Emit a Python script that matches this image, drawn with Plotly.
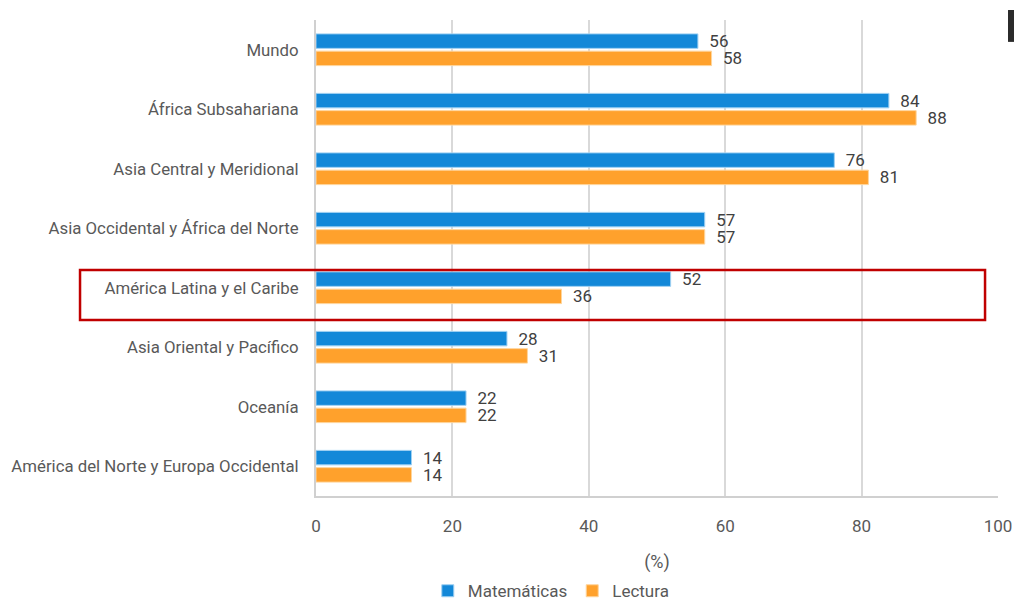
import plotly.graph_objects as go

categories = ["Mundo", "África Subsahariana", "Asia Central y Meridional",
              "Asia Occidental y África del Norte", "América Latina y el Caribe",
              "Asia Oriental y Pacífico", "Oceanía", "América del Norte y Europa Occidental"]
matematicas = [56, 84, 76, 57, 52, 28, 22, 14]
lectura = [58, 88, 81, 57, 36, 31, 22, 14]
x_ticks = [0, 20, 40, 60, 80, 100]

FONT = "Roboto, Liberation Sans, sans-serif"
GREY = "#595959"

fig = go.Figure()
fig.add_trace(go.Bar(y=categories, x=matematicas, orientation="h", name="Matemáticas",
                     marker=dict(color="#1388D8", line=dict(color="#9fd0f2", width=1)),
                     text=[str(v) for v in matematicas], texttemplate="  %{text}",
                     textposition="outside", constraintext="none",
                     textfont=dict(size=17, color="#404040", family=FONT), cliponaxis=False))
fig.add_trace(go.Bar(y=categories, x=lectura, orientation="h", name="Lectura",
                     marker=dict(color="#FFA12C", line=dict(color="#ffd59c", width=1)),
                     text=[str(v) for v in lectura], texttemplate="  %{text}",
                     textposition="outside", constraintext="none",
                     textfont=dict(size=17, color="#404040", family=FONT), cliponaxis=False))

fig.update_layout(
    width=1014, height=601,
    margin=dict(l=316, r=16, t=20, b=105, autoexpand=False),
    paper_bgcolor="white", plot_bgcolor="white",
    barmode="group", bargap=0.42, bargroupgap=0.16,
    font=dict(family=FONT, color=GREY, size=17),
    showlegend=True,
    legend=dict(orientation="h", x=0.345, xanchor="center", y=-0.2, yanchor="middle",
                font=dict(size=17, color=GREY, family=FONT), traceorder="normal"),
)
fig.update_xaxes(range=[0, 100], tickvals=x_ticks, showgrid=True, gridcolor="#d9d9d9",
                 gridwidth=1.5, showline=True, linecolor="#d0d0d0", linewidth=2,
                 zeroline=False, ticks="", ticklabelstandoff=14, automargin=False,
                 tickfont=dict(size=17, color=GREY, family=FONT),
                 title=dict(text="(%)", font=dict(size=18, color=GREY, family=FONT), standoff=20),
                 mirror=False)
fig.update_yaxes(autorange="reversed", showgrid=False, showline=True, linecolor="#d0d0d0",
                 linewidth=2, ticks="", ticklabelstandoff=12, automargin=False,
                 tickfont=dict(size=16.8, color=GREY, family=FONT))

# Highlight box around "América Latina y el Caribe"
fig.add_shape(type="rect", xref="paper", yref="paper", x0=-0.346, x1=0.981, y0=0.370, y1=0.475,
              line=dict(color="#C00000", width=2.5), fillcolor="rgba(0,0,0,0)")
# Dark element at top-right corner
fig.add_shape(type="rect", xref="paper", yref="paper", x0=1.0147, x1=1.035, y0=0.954, y1=1.021,
              line=dict(color="#2b2b2b", width=0), fillcolor="#2b2b2b")

fig.write_html("out.html", config={"displayModeBar": False},
               post_script="document.body.style.margin='0';document.body.style.overflow='hidden';")
